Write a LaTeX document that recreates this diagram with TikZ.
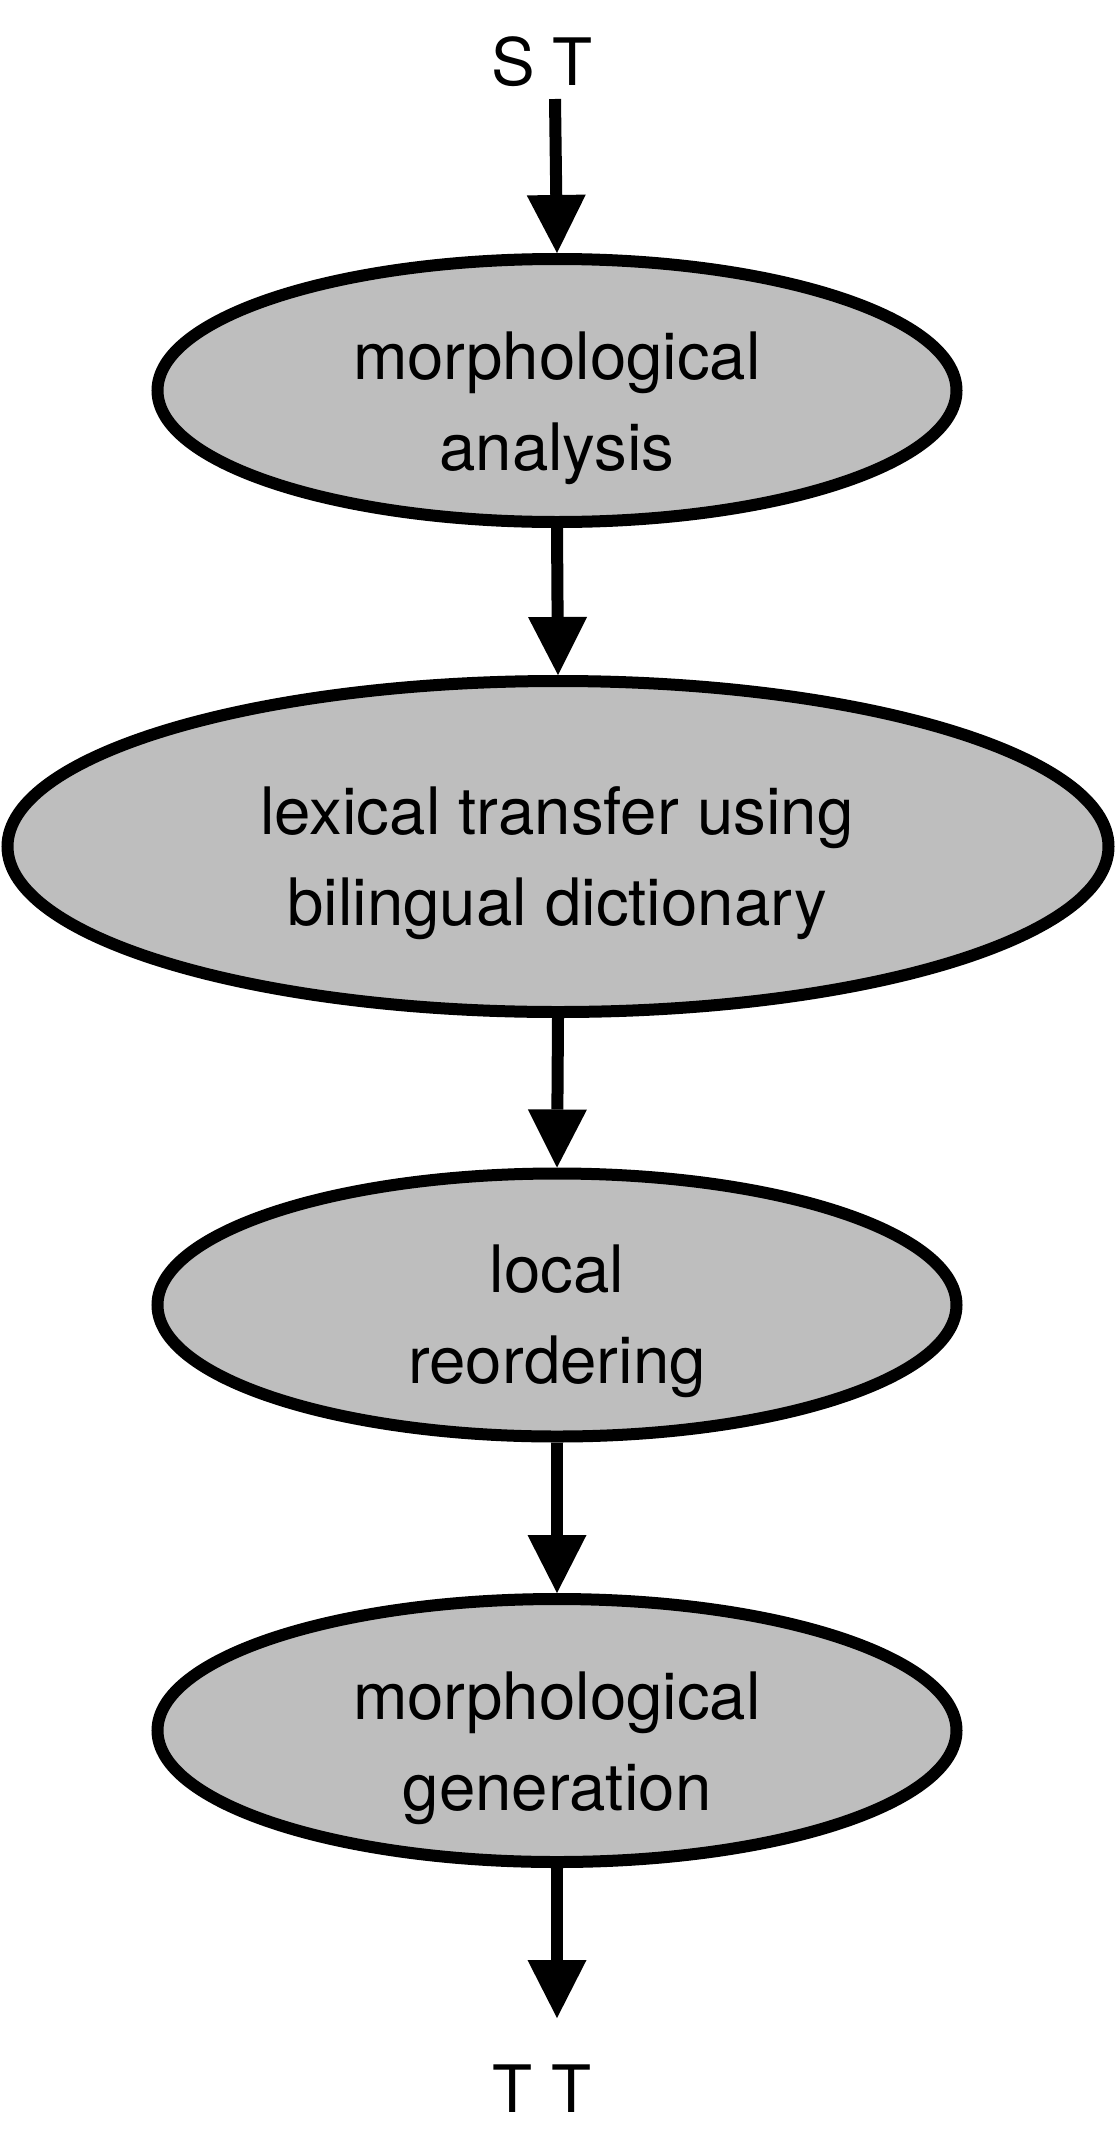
\documentclass[tikz,border=0pt]{standalone}
\usepackage{fontspec}
\setmainfont{TeX Gyre Heros}
\usetikzlibrary{shapes.geometric,arrows.meta}
\definecolor{boxgrey}{RGB}{190,190,190}
\begin{document}
\begin{tikzpicture}[x=0.5pt,y=-0.5pt,
  proc/.style={ellipse,draw=black,fill=boxgrey,line width=6pt,inner sep=0pt,
    minimum width=399.5pt,minimum height=131.5pt},
  wideproc/.style={proc,minimum width=550.5pt,minimum height=165.5pt},
  txt/.style={align=center,inner sep=0pt,font=\fontsize{32.7pt}{45.5pt}\selectfont},
  arr/.style={line width=6pt,-{Triangle[width=29.5pt,length=29pt,line width=0pt]}}]
\useasboundingbox (0,0) rectangle (1116,2141);
\node[proc] (e1) at (557,390.5) {};
\node[wideproc] (e2) at (558,846.5) {};
\node[proc] (e3) at (557,1305) {};
\node[proc] (e4) at (557,1730.5) {};
\node[txt,anchor=base] (t1) at (557,470) {morphological\\analysis};
\node[txt,anchor=base] (t2) at (557,925.5) {lexical transfer using\\bilingual dictionary};
\node[txt,anchor=base] (t3) at (557,1383) {local\\reordering};
\node[txt,anchor=base] (t4) at (557,1810) {morphological\\generation};
\node[txt,anchor=base] (st) at (542,86) {S T};
\node[txt,anchor=base] (tt) at (542,2112) {T T};
\coordinate (a0) at (555,99);
\coordinate (a5) at (557,2018);
\draw[arr] (a0) -- (e1.north);
\draw[arr] (e1.south) -- (e2.north);
\draw[arr] (e2.south) -- (e3.north);
\draw[arr] (e3.south) -- (e4.north);
\draw[arr] (e4.south) -- (a5);
\end{tikzpicture}
\end{document}
